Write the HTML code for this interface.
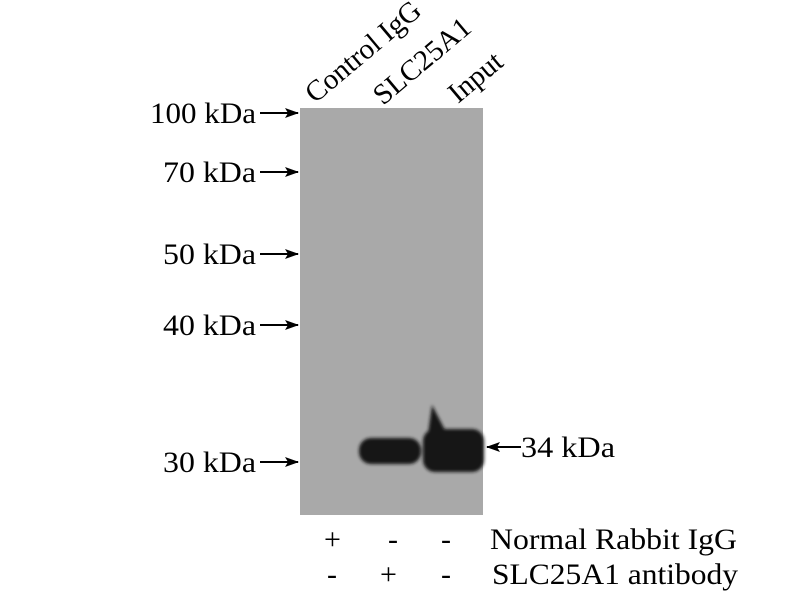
<!DOCTYPE html>
<html><head><style>body{margin:0;background:#fff}</style></head><body>
<svg width="800" height="600" xmlns="http://www.w3.org/2000/svg" font-family="Liberation Serif, serif" fill="#000">
<defs>
<filter id="b"><feGaussianBlur stdDeviation="1.5"/></filter>
<marker id="ah" markerUnits="userSpaceOnUse" markerWidth="14" markerHeight="10" refX="13" refY="5" orient="auto"><path d="M0,0 L14,5 L0,10 L3,5 Z"/></marker>
</defs>
<rect x="300" y="108" width="183" height="407" fill="#a9a9a9"/>
<g filter="url(#b)" fill="#161616">
<rect x="359" y="438" width="62" height="26" rx="12"/>
<rect x="423" y="429" width="61" height="43" rx="12"/>
<path d="M432,405 L446,432 L428,434 Z"/>
</g>
<g font-size="30" lengthAdjust="spacingAndGlyphs">
<text x="150" y="123" textLength="106" lengthAdjust="spacingAndGlyphs">100 kDa</text>
<text x="163" y="182" textLength="93" lengthAdjust="spacingAndGlyphs">70 kDa</text>
<text x="163" y="264" textLength="93" lengthAdjust="spacingAndGlyphs">50 kDa</text>
<text x="163" y="335" textLength="93" lengthAdjust="spacingAndGlyphs">40 kDa</text>
<text x="163" y="472" textLength="93" lengthAdjust="spacingAndGlyphs">30 kDa</text>
<text x="521" y="457" textLength="94" lengthAdjust="spacingAndGlyphs">34 kDa</text>
</g>
<g stroke="#000" stroke-width="2">
<line x1="260" y1="113" x2="298" y2="113" marker-end="url(#ah)"/>
<line x1="260" y1="172" x2="298" y2="172" marker-end="url(#ah)"/>
<line x1="260" y1="254" x2="298" y2="254" marker-end="url(#ah)"/>
<line x1="260" y1="325" x2="298" y2="325" marker-end="url(#ah)"/>
<line x1="260" y1="462" x2="298" y2="462" marker-end="url(#ah)"/>
<line x1="521" y1="447" x2="487" y2="447" marker-end="url(#ah)"/>
</g>
<g font-size="29">
<text transform="translate(315,104) rotate(-40)">Control IgG</text>
<text transform="translate(383,106) rotate(-40)">SLC25A1</text>
<text transform="translate(458,104) rotate(-40)">Input</text>
</g>
<g font-size="30">
<text x="324" y="549">+</text><text x="388" y="549">-</text><text x="441" y="549">-</text>
<text x="490" y="549" textLength="247" lengthAdjust="spacingAndGlyphs">Normal Rabbit IgG</text>
<text x="327" y="584">-</text><text x="380" y="584">+</text><text x="441" y="584">-</text>
<text x="492" y="584" textLength="246" lengthAdjust="spacingAndGlyphs">SLC25A1 antibody</text>
</g>
</svg>
</body></html>
